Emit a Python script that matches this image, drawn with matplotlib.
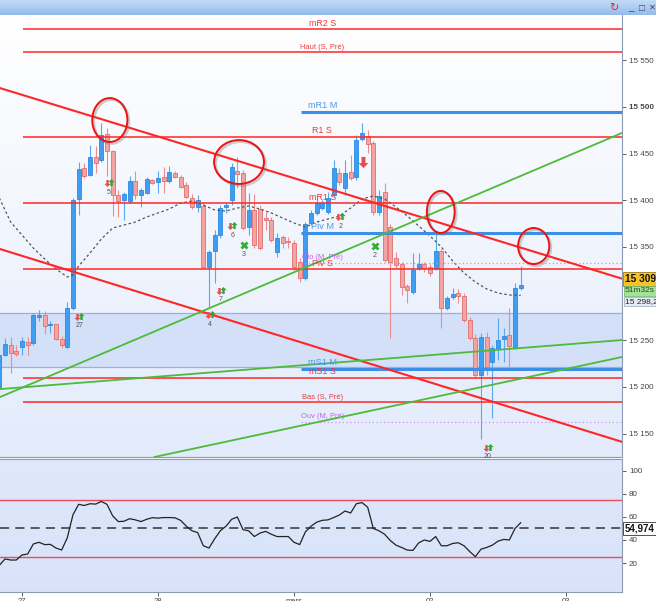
import numpy as np
import matplotlib.pyplot as plt
from matplotlib.patches import Ellipse
from matplotlib.colors import LinearSegmentedColormap

plt.rcParams['font.family'] = ['Liberation Sans', 'DejaVu Sans']

W, H = 656, 601

# hourly candles, index 0 = 27 at 00:00
candle_idx = list(range(-4, 89))
opens = [15200, 15234, 15245, 15239, 15243, 15248, 15247, 15275, 15277, 15266,
         15267, 15251, 15243, 15285, 15401, 15435, 15427, 15446, 15443, 15471,
         15453, 15406, 15400, 15399, 15421, 15406, 15408, 15422, 15420, 15425,
         15421, 15429, 15425, 15416, 15402, 15393, 15394, 15329, 15346, 15363,
         15393, 15400, 15431, 15429, 15371, 15390, 15391, 15381, 15379, 15345,
         15361, 15356, 15354, 15334, 15317, 15376, 15386, 15392, 15387, 15406,
         15429, 15413, 15430, 15425, 15466, 15469, 15461, 15387, 15409, 15371,
         15338, 15332, 15308, 15302, 15327, 15332, 15329, 15327, 15346, 15285,
         15296, 15301, 15298, 15272, 15252, 15213, 15254, 15227, 15242, 15251,
         15256, 15243, 15306]
highs = [15240, 15252, 15254, 15245, 15254, 15254, 15279, 15282, 15281, 15271,
         15268, 15255, 15291, 15402, 15441, 15440, 15459, 15458, 15483, 15477,
         15454, 15411, 15409, 15426, 15431, 15413, 15425, 15423, 15431, 15436,
         15437, 15431, 15427, 15420, 15407, 15406, 15397, 15347, 15368, 15395,
         15397, 15440, 15446, 15432, 15408, 15407, 15395, 15387, 15382, 15365,
         15363, 15361, 15357, 15338, 15377, 15390, 15402, 15400, 15409, 15443,
         15435, 15443, 15449, 15470, 15483, 15475, 15463, 15411, 15419, 15375,
         15345, 15334, 15310, 15344, 15344, 15334, 15332, 15365, 15348, 15298,
         15306, 15305, 15301, 15275, 15257, 15258, 15259, 15245, 15274, 15263,
         15285, 15311, 15330]
lows = [15195, 15233, 15215, 15233, 15234, 15234, 15245, 15271, 15257, 15258,
        15250, 15242, 15242, 15283, 15384, 15424, 15426, 15429, 15441, 15426,
        15383, 15382, 15379, 15397, 15401, 15393, 15407, 15417, 15408, 15408,
        15419, 15424, 15413, 15402, 15391, 15387, 15327, 15286, 15311, 15360,
        15386, 15395, 15413, 15368, 15363, 15349, 15347, 15368, 15355, 15339,
        15349, 15349, 15325, 15312, 15315, 15373, 15384, 15390, 15385, 15404,
        15416, 15406, 15422, 15422, 15464, 15451, 15384, 15384, 15334, 15252,
        15327, 15299, 15290, 15300, 15325, 15323, 15319, 15325, 15263, 15283,
        15294, 15290, 15270, 15250, 15211, 15144, 15213, 15167, 15229, 15227,
        15218, 15241, 15304]
closes = [15234, 15246, 15236, 15235, 15249, 15245, 15277, 15277, 15265, 15268,
          15251, 15245, 15285, 15400, 15434, 15426, 15446, 15440, 15470, 15453,
          15406, 15399, 15407, 15421, 15406, 15411, 15423, 15419, 15424, 15421,
          15430, 15425, 15414, 15404, 15393, 15400, 15329, 15345, 15363, 15392,
          15395, 15436, 15428, 15370, 15390, 15352, 15349, 15379, 15357, 15360,
          15354, 15355, 15329, 15317, 15375, 15386, 15397, 15397, 15402, 15435,
          15420, 15429, 15424, 15465, 15472, 15460, 15387, 15405, 15336, 15334,
          15331, 15307, 15304, 15325, 15332, 15327, 15322, 15346, 15285, 15295,
          15300, 15297, 15272, 15252, 15213, 15254, 15221, 15242, 15250, 15255,
          15244, 15306, 15309]

# moving average (dashed)
ma_idx = [-4, -2, 0, 2, 4, 6, 8, 9, 10] + list(range(12, 89, 2))
ma_val = [15402.5, 15376.7, 15362.8, 15348.9, 15337.1, 15326.4, 15317.8, 15320.0, 15329.6,
          15343.5, 15358.5, 15370.3, 15373.5, 15376.7, 15382.1, 15386.4, 15390.7, 15397.1,
          15399.2, 15395.0, 15389.6, 15388.5, 15391.7, 15393.9, 15390.7, 15386.4, 15381.0,
          15375.7, 15371.4, 15376.7, 15380.0, 15383.2, 15391.7, 15401.4, 15404.6, 15401.4,
          15392.8, 15383.2, 15372.5, 15361.8, 15350.0, 15335.0, 15322.1, 15312.5, 15305.0,
          15300.7, 15298.5, 15298.2]

# RSI, one value per candle
rsi = [18, 23.5, 22.6, 22.6, 27, 27.8, 36.5, 38, 36, 36.2,
       33, 31.3, 42, 62, 71, 70, 71.5, 71.2, 73.5, 71,
       61, 56, 56.3, 58.5, 57.5, 56, 58, 59.4, 59, 59.5,
       59.5, 59.3, 57, 52, 48, 46.5, 35, 33, 41, 48,
       52, 58, 60, 49, 48, 43, 46, 47.5, 45, 43,
       43, 43, 38, 36, 47, 52, 55.5, 57.1, 57.5, 59.5,
       61.7, 65.2, 63.5, 71.5, 72.5, 68.5, 50, 48, 45, 39.5,
       35.5, 33.5, 31.2, 31, 37.5, 40, 38.8, 43, 35, 35,
       37, 37.6, 35, 30, 25.5, 32, 33.5, 35.5, 39, 40.5,
       40, 50, 54.974]

day_ticks = [0, 24, 48, 72, 96]
day_labels = ['27', '28', 'mars', '02', '03']
price_ticks = [15150, 15200, 15250, 15350, 15400, 15450, 15500, 15550]
rsi_ticks = [20, 40, 60, 80, 100]

week_names = ['mR2 S', 'Haut (S, Pré)', 'R1 S', 'mR1 S', 'Piv S', 'mS1 S', 'Bas (S, Pré)']
week_values = [15583.5, 15558.5, 15468, 15397, 15326, 15210, 15184]
month_names = ['mR1 M', 'Piv M', 'mS1 M']
month_values = [15495, 15365, 15219]
prev_names = ['Clo (M, Pré)', 'Ouv (M, Pré)']
prev_values = [15333, 15163]
zone = (15221.4, 15279.3)
week_start, month_start = 0.2, 49.2

red_trends = [((0, 15513), (100, 15327)), ((0, 15340.5), (100, 15152.3))]
green_trends = [((0, 15199.2), (100, 15457)), ((0, 15199.6), (100, 15247.5)),
                ((22.6, 15124), (100, 15224.5))]

# circled zones: centre index, centre price, width (candles), height (points)
circles = [(15.5, 15486, 6.2, 47), (38.3, 15441, 8.8, 47),
           (73.9, 15387.5, 4.9, 45), (90.3, 15351, 5.5, 38.6)]

signal_pairs = [(10.1, 15275.5, '27'), (15.3, 15418.5, '5'), (33.2, 15277, '4'),
                (35.1, 15303, '7'), (37.1, 15372, '6'), (56.2, 15382, '2'), (82.2, 15135, '20')]
signal_crosses = [(39.2, 15352, '3'), (62.3, 15351, '2')]
big_down = (60.2, 15441)

RED, BLUE, GREEN, VIOLET = '#ff2626', '#3b8fe8', '#4cbb3a', '#d08ef0'


def fx(px):
    return px / W


def fy(py):
    return 1 - py / H


def gradient(ax, top, bottom):
    cmap = LinearSegmentedColormap.from_list('g', [bottom, top])
    ax.imshow(np.linspace(0, 1, 256).reshape(-1, 1), extent=[0, 1, 0, 1],
              transform=ax.transAxes, cmap=cmap, aspect='auto', origin='lower', zorder=0)


fig = plt.figure(figsize=(W / 100, H / 100), dpi=100)
fig.patch.set_facecolor('white')

ax = fig.add_axes([0, fy(457), fx(622), fy(15) - fy(457)])
axr = fig.add_axes([0, fy(592), fx(622), fy(459) - fy(592)])
bar = fig.add_axes([0, fy(15), 1, 15 / H])

# title bar
gradient(bar, '#c4dbf6', '#92bbea')
bar.set_axis_off()
bar.text(0.935, 0.45, '↻', color='#d83030', fontsize=8, ha='center', va='center', transform=bar.transAxes)
bar.text(0.962, 0.55, '_', color='#445', fontsize=7, ha='center', va='center', transform=bar.transAxes)
bar.text(0.978, 0.45, '□', color='#445', fontsize=7, ha='center', va='center', transform=bar.transAxes)
bar.text(0.995, 0.45, '✕', color='#445', fontsize=6, ha='center', va='center', transform=bar.transAxes)

# ---- main price panel
gradient(ax, '#ffffff', '#e3ebfb')
ax.axhspan(zone[0], zone[1], facecolor='#d3e0f8', edgecolor='none', zorder=1)
for v in zone:
    ax.axhline(v, color='#8fb3ee', lw=0.9, zorder=1)

o = np.array(opens)
c = np.array(closes)
up = c >= o
body_col = np.where(up, '#3f9df2', '#f5a2a2')
edge_col = np.where(up, '#2b8be0', '#e06f6f')
wick_col = np.where(up, '#5aa9f0', '#ee8c8c')
ax.vlines(candle_idx, lows, highs, colors=wick_col, lw=0.8, zorder=3)
ax.bar(candle_idx, np.maximum(np.abs(c - o), 0.8), bottom=np.minimum(o, c), width=0.68,
       color=body_col, edgecolor=edge_col, lw=0.6, zorder=4)

ax.plot(ma_idx, ma_val, color='#555555', lw=0.9, dashes=(2, 2), zorder=5)

label_x = 53
for name, v in zip(week_names, week_values):
    ax.hlines(v, week_start, 106, color=RED, lw=1.1, zorder=5)
    small = '(' in name
    ax.annotate(name, (label_x, v), xytext=(0, 1), textcoords='offset points', ha='center',
                va='bottom', color='#f03a3a', fontsize=5.4 if small else 6.4, zorder=9)
for name, v in zip(month_names, month_values):
    ax.hlines(v, month_start, 106, color=BLUE, lw=2.2, zorder=5)
    ax.annotate(name, (label_x, v), xytext=(0, 1.5), textcoords='offset points', ha='center',
                va='bottom', color='#4a9be8', fontsize=6.6, zorder=9)
for name, v in zip(prev_names, prev_values):
    ax.hlines(v, month_start, 106, color=VIOLET, lw=0.9, linestyles=(0, (1, 2)), zorder=5)
    ax.annotate(name, (label_x, v), xytext=(0, 1), textcoords='offset points', ha='center',
                va='bottom', color='#c860ee', fontsize=5.4, zorder=9)

for p1, p2 in red_trends:
    ax.axline(p1, p2, color=RED, lw=1.5, zorder=6)
for p1, p2 in green_trends:
    ax.axline(p1, p2, color=GREEN, lw=1.3, zorder=6)

for xc, yc, w, h in circles:
    ax.add_patch(Ellipse((xc + 0.3, yc - 1.8), w, h, fill=False, ec='#777777', lw=1.8,
                         alpha=0.35, zorder=7))
    ax.add_patch(Ellipse((xc, yc), w, h, fill=False, ec='#ee1111', lw=1.4, zorder=8))

up_arrow = [(0, 1), (-0.9, 0.1), (-0.35, 0.1), (-0.35, -1), (0.35, -1), (0.35, 0.1), (0.9, 0.1), (0, 1)]
down_arrow = [(x, -y) for x, y in up_arrow]
for xi, p, lab in signal_pairs:
    ax.plot(xi - 0.35, p, marker=down_arrow, ms=5, color='#e05050', mec='none', zorder=9)
    ax.plot(xi + 0.35, p + 1, marker=up_arrow, ms=5, color='#2fa82f', mec='none', zorder=9)
    ax.annotate(lab, (xi, p), xytext=(0, -4), textcoords='offset points', ha='center',
                va='top', fontsize=5, color='#555555', zorder=9)
for xi, p, lab in signal_crosses:
    ax.plot(xi, p, marker='X', ms=6, color='#33b033', mec='none', zorder=9)
    ax.annotate(lab, (xi, p), xytext=(0, -4), textcoords='offset points', ha='center',
                va='top', fontsize=5, color='#555555', zorder=9)
ax.plot(*big_down, marker=down_arrow, ms=8, color='#e05050', mec='none', zorder=9)

ax.set_xlim(-3.88, 105.88)
ax.set_ylim(15125.0, 15598.5)
ax.yaxis.tick_right()
ax.set_yticks(price_ticks, [f"{t:,}".replace(',', ' ') for t in price_ticks])
for t, lab in zip(price_ticks, ax.get_yticklabels()):
    if t == 15500:
        lab.set_fontweight('bold')
ax.tick_params(axis='y', direction='out', length=3, pad=2, labelsize=5.8,
               colors='#444444', width=0.6)
ax.set_xticks([])
for s in ['left', 'top']:
    ax.spines[s].set_visible(False)
for s in ['right', 'bottom']:
    ax.spines[s].set_color('#8d9bb0')

# ---- RSI panel
gradient(axr, '#dfe8fc', '#d8e3f9')
axr.plot(candle_idx, rsi, color='#222222', lw=0.9, zorder=4)
axr.axhline(75, color='#f04a5a', lw=1.0, zorder=3)
axr.axhline(25, color='#f04a5a', lw=1.0, zorder=3)
axr.axhline(50, color='#333333', lw=1.1, dashes=(6, 4), zorder=3)
axr.set_xlim(-3.88, 105.88)
axr.set_ylim(-5.2, 110.4)
axr.yaxis.tick_right()
axr.set_yticks(rsi_ticks)
axr.tick_params(axis='y', direction='out', length=3, pad=2, labelsize=5.8,
                colors='#444444', width=0.6)
axr.set_xticks(day_ticks, day_labels)
axr.tick_params(axis='x', direction='out', length=3, pad=1, labelsize=5.5,
                colors='#444444', width=0.6)
axr.spines['left'].set_visible(False)
for s in ['right', 'bottom', 'top']:
    axr.spines[s].set_color('#8d9bb0')

# right side value boxes
last = f"{closes[-1]:,}".replace(',', ' ')
fig.text(fx(625), fy(279), last, fontsize=7.3, fontweight='bold', va='center', ha='left',
         color='#111111', bbox=dict(boxstyle='square,pad=0.2', fc='#f6c22a', ec='#a07a10', lw=0.6))
fig.text(fx(625), fy(291), '51m32s', fontsize=6, va='center', ha='left', color='#1d4d1d',
         bbox=dict(boxstyle='square,pad=0.15', fc='#a3e29a', ec='#6cb060', lw=0.5))
ma_txt = f"{ma_val[-1]:,.1f}".replace(',', ' ').replace('.', ',')
fig.text(fx(625), fy(301.5), ma_txt, fontsize=6, va='center', ha='left', color='#222222',
         bbox=dict(boxstyle='square,pad=0.15', fc='#e4ebf5', ec='#9aa8bb', lw=0.5))
rsi_txt = f"{rsi[-1]:.3f}".replace('.', ',')
fig.text(fx(625), fy(528.5), rsi_txt, fontsize=7, fontweight='bold', va='center', ha='left',
         color='#111111', bbox=dict(boxstyle='square,pad=0.2', fc='white', ec='#333333', lw=0.6))

fig.savefig('out.png', dpi=100)
